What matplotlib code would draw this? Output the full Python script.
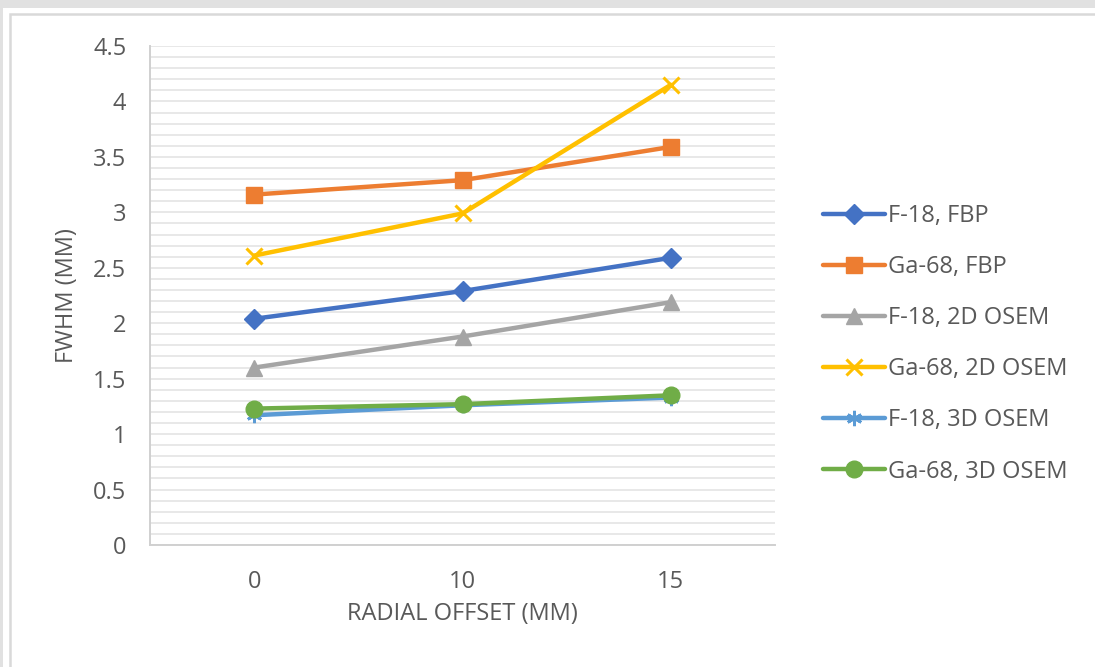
import matplotlib
matplotlib.use("Agg")
import matplotlib.pyplot as plt
from matplotlib.patches import Rectangle
from matplotlib.ticker import MultipleLocator

categories = ["0", "10", "15"]
series_names = ["F-18, FBP", "Ga-68, FBP", "F-18, 2D OSEM",
                "Ga-68, 2D OSEM", "F-18, 3D OSEM", "Ga-68, 3D OSEM"]
f18_fbp = [2.04, 2.29, 2.59]
ga68_fbp = [3.16, 3.29, 3.59]
f18_2d = [1.60, 1.88, 2.19]
ga68_2d = [2.61, 2.99, 4.15]
f18_3d = [1.17, 1.26, 1.33]
ga68_3d = [1.23, 1.27, 1.35]
y_ticks = [0, 0.5, 1, 1.5, 2, 2.5, 3, 3.5, 4, 4.5]
y_tick_labels = ["0", "0.5", "1", "1.5", "2", "2.5", "3", "3.5", "4", "4.5"]

values = [f18_fbp, ga68_fbp, f18_2d, ga68_2d, f18_3d, ga68_3d]
colors = ["#4472C4", "#ED7D31", "#A5A5A5", "#FFC000", "#5B9BD5", "#70AD47"]
markers = ["D", "s", "^", "x", (6, 2, 0), "o"]
msizes = [10, 12, 12, 12, 11, 12]
mew = [1, 1, 1, 2.2, 2.0, 1]

plt.rcParams["font.family"] = ["Open Sans", "DejaVu Sans"]
text_color = "#595959"
fs = 17

fig = plt.figure(figsize=(10.95, 6.67), dpi=100)
fig.patch.set_facecolor("white")
# outer gray frame
fig.patches.append(Rectangle((0, 0), 1, 1, transform=fig.transFigure,
                             facecolor="#e1e1e1", edgecolor="none", zorder=-3))
fig.patches.append(Rectangle((3 / 1095, 0), 1 - 3 / 1095, 1 - 8 / 667,
                             transform=fig.transFigure, facecolor="white",
                             edgecolor="none", zorder=-2))
fig.patches.append(Rectangle((9.5 / 1095, -0.01), 1.02 - 9.5 / 1095, 1 - 13.5 / 667 + 0.01,
                             transform=fig.transFigure, facecolor="white",
                             edgecolor="#d9d9d9", linewidth=1.8, zorder=-1))

ax = fig.add_axes([150 / 1095, 1 - 545 / 667, 625 / 1095, 499 / 667])
x = list(range(len(categories)))
for name, vals, c, m, ms, mw in zip(series_names, values, colors, markers, msizes, mew):
    ax.plot(x, vals, color=c, lw=3.2, marker=m, markersize=ms,
            markeredgewidth=mw, markeredgecolor=c, markerfacecolor=c,
            label=name, solid_capstyle="round")

ax.set_xlim(-0.5, 2.5)
ax.set_ylim(0, 4.5)
ax.set_xticks(x)
ax.set_xticklabels(categories)
ax.set_yticks(y_ticks)
ax.set_yticklabels(y_tick_labels)
ax.yaxis.set_minor_locator(MultipleLocator(0.1))
ax.grid(axis="y", which="both", color="#e8e8e8", lw=1.4)
ax.set_axisbelow(True)
for s in ["top", "right"]:
    ax.spines[s].set_visible(False)
for s in ["left", "bottom"]:
    ax.spines[s].set_color("#d0d0d0")
    ax.spines[s].set_linewidth(1.4)
ax.tick_params(axis="both", which="both", length=0, colors=text_color, labelsize=fs)
ax.tick_params(axis="y", pad=17)
ax.tick_params(axis="x", pad=18)
ax.set_ylabel("FWHM (MM)", color=text_color, fontsize=fs, labelpad=10)
ax.set_xlabel("RADIAL OFFSET (MM)", color=text_color, fontsize=fs, labelpad=6)

leg = fig.legend(loc="upper left", bbox_to_anchor=(811 / 1095, 1 - 192 / 667),
                 frameon=False, fontsize=fs, labelspacing=1.15,
                 handlelength=2.65, handletextpad=0.12, labelcolor=text_color,
                 borderpad=0)

fig.savefig("out.png", dpi=100)
